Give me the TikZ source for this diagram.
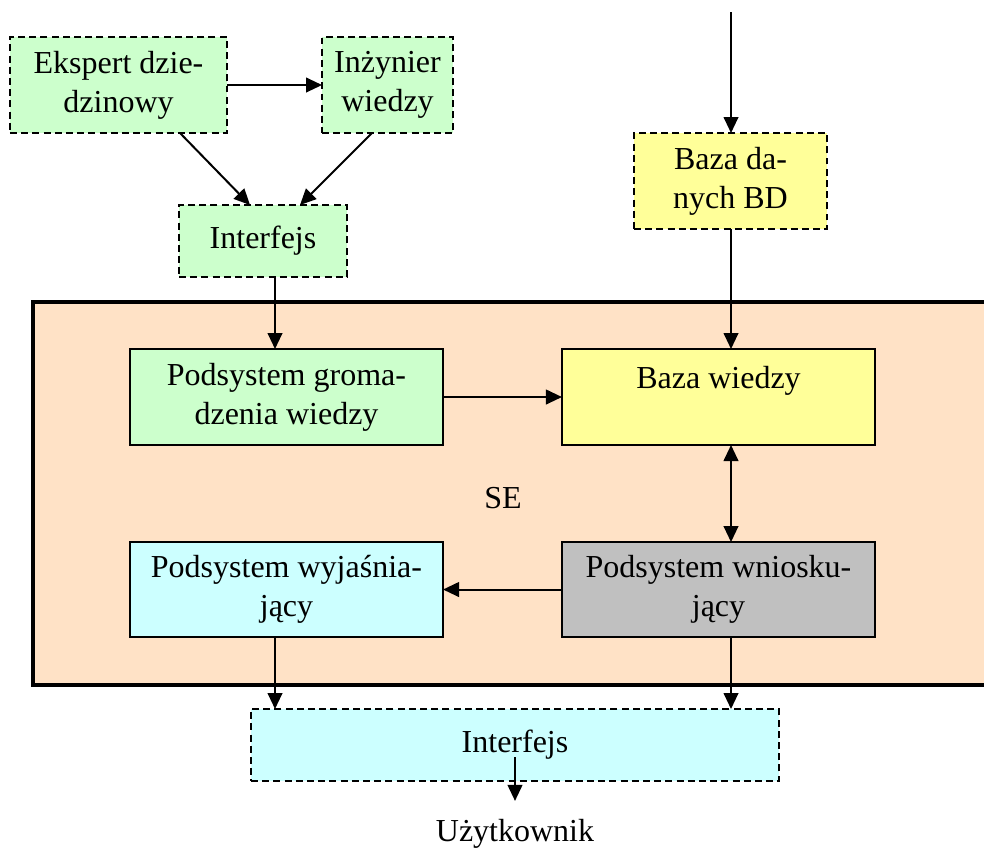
\documentclass[tikz,border=0pt]{standalone}
\usepackage{fontspec}
\setmainfont{Liberation Serif}
\usetikzlibrary{arrows.meta,calc,positioning}
\definecolor{zielony}{HTML}{CCFFCC}
\definecolor{zolty}{HTML}{FFFF99}
\definecolor{niebieski}{HTML}{CCFFFF}
\definecolor{szary}{HTML}{C0C0C0}
\definecolor{brzoskwinia}{RGB}{255,226,198}

\begin{document}
\begin{tikzpicture}[
    x=0.375pt, y=-0.375pt,
    font=\fontsize{12}{14.6}\selectfont,
    grot/.tip={Triangle[length=6pt,width=5.5pt]},
    blok/.style={draw, line width=0.75pt, inner sep=0pt, outer sep=0pt, align=center},
    kreski/.style={blok, dash pattern=on 2.6pt off 1.6pt},
    arr/.style={-grot, line width=0.75pt},
    arr2/.style={grot-grot, line width=0.75pt}
    ]
\useasboundingbox (0,0) rectangle (984,849);
\draw[fill=brzoskwinia, line width=1.5pt] (33,302) rectangle (1000,685);
\node at (503,498) {SE};

\node[kreski, fill=zielony, minimum width=81.4pt, minimum height=36pt] (ekspert) at (118.5,85) {Ekspert dzie-\\dzinowy};
\node[kreski, fill=zielony, minimum width=49.1pt, minimum height=36pt] (inzynier) at (387.5,85) {Inżynier\\wiedzy};
\node[kreski, fill=zielony, minimum width=63pt, minimum height=27pt] (interfejsA) at (263,241) {Interfejs};
\node[kreski, fill=zolty, minimum width=72.4pt, minimum height=36pt] (bazaBD) at (730.5,181) {Baza da-\\nych BD};
\coordinate (wejscie) at (731,12);

\node[blok, fill=zielony, minimum width=117.4pt, minimum height=36pt] (gromadzenie) at (286.5,397) {Podsystem groma-\\dzenia wiedzy};
\node[blok, fill=zolty, minimum width=117.4pt, minimum height=36pt] (bazaWiedzy) at (718.5,397) {Baza wiedzy\\\phantom{X}};
\node[blok, fill=niebieski, minimum width=117.4pt, minimum height=35.6pt] (wyjasniajacy) at (286.5,589.5) {Podsystem wyjaśnia-\\jący};
\node[blok, fill=szary, minimum width=117.4pt, minimum height=35.6pt] (wnioskujacy) at (718.5,589.5) {Podsystem wniosku-\\jący};

\node[kreski, fill=niebieski, minimum width=198pt, minimum height=27pt] (interfejsB) at (515,745) {Interfejs};
\node[inner sep=0pt] (uzytkownik) at (515,834) {Użytkownik};

\draw[arr] (ekspert.east) -- (inzynier.west);
\draw[arr] ($(ekspert.south)+(61.5,0)$) -- ($(interfejsA.north)+(-13,0)$);
\draw[arr] ($(inzynier.south)+(-15.5,0)$) -- ($(interfejsA.north)+(37,0)$);
\draw[arr] ($(interfejsA.south)+(12,0)$) coordinate (p) -- (p |- gromadzenie.north);
\draw[arr] (wejscie) -- (wejscie |- bazaBD.north);
\draw[arr] (wejscie |- bazaBD.south) -- (wejscie |- bazaWiedzy.north);
\draw[arr] (gromadzenie.east) -- (bazaWiedzy.west);
\draw[arr2] (wejscie |- bazaWiedzy.south) -- (wejscie |- wnioskujacy.north);
\draw[arr] (wnioskujacy.west) -- (wyjasniajacy.east);
\draw[arr] (p |- wyjasniajacy.south) -- (p |- interfejsB.north);
\draw[arr] (wejscie |- wnioskujacy.south) -- (wejscie |- interfejsB.north);
\draw[arr] ($(interfejsB.center)+(0,12)$) -- ($(uzytkownik.north)+(0,-18)$);
\end{tikzpicture}
\end{document}
